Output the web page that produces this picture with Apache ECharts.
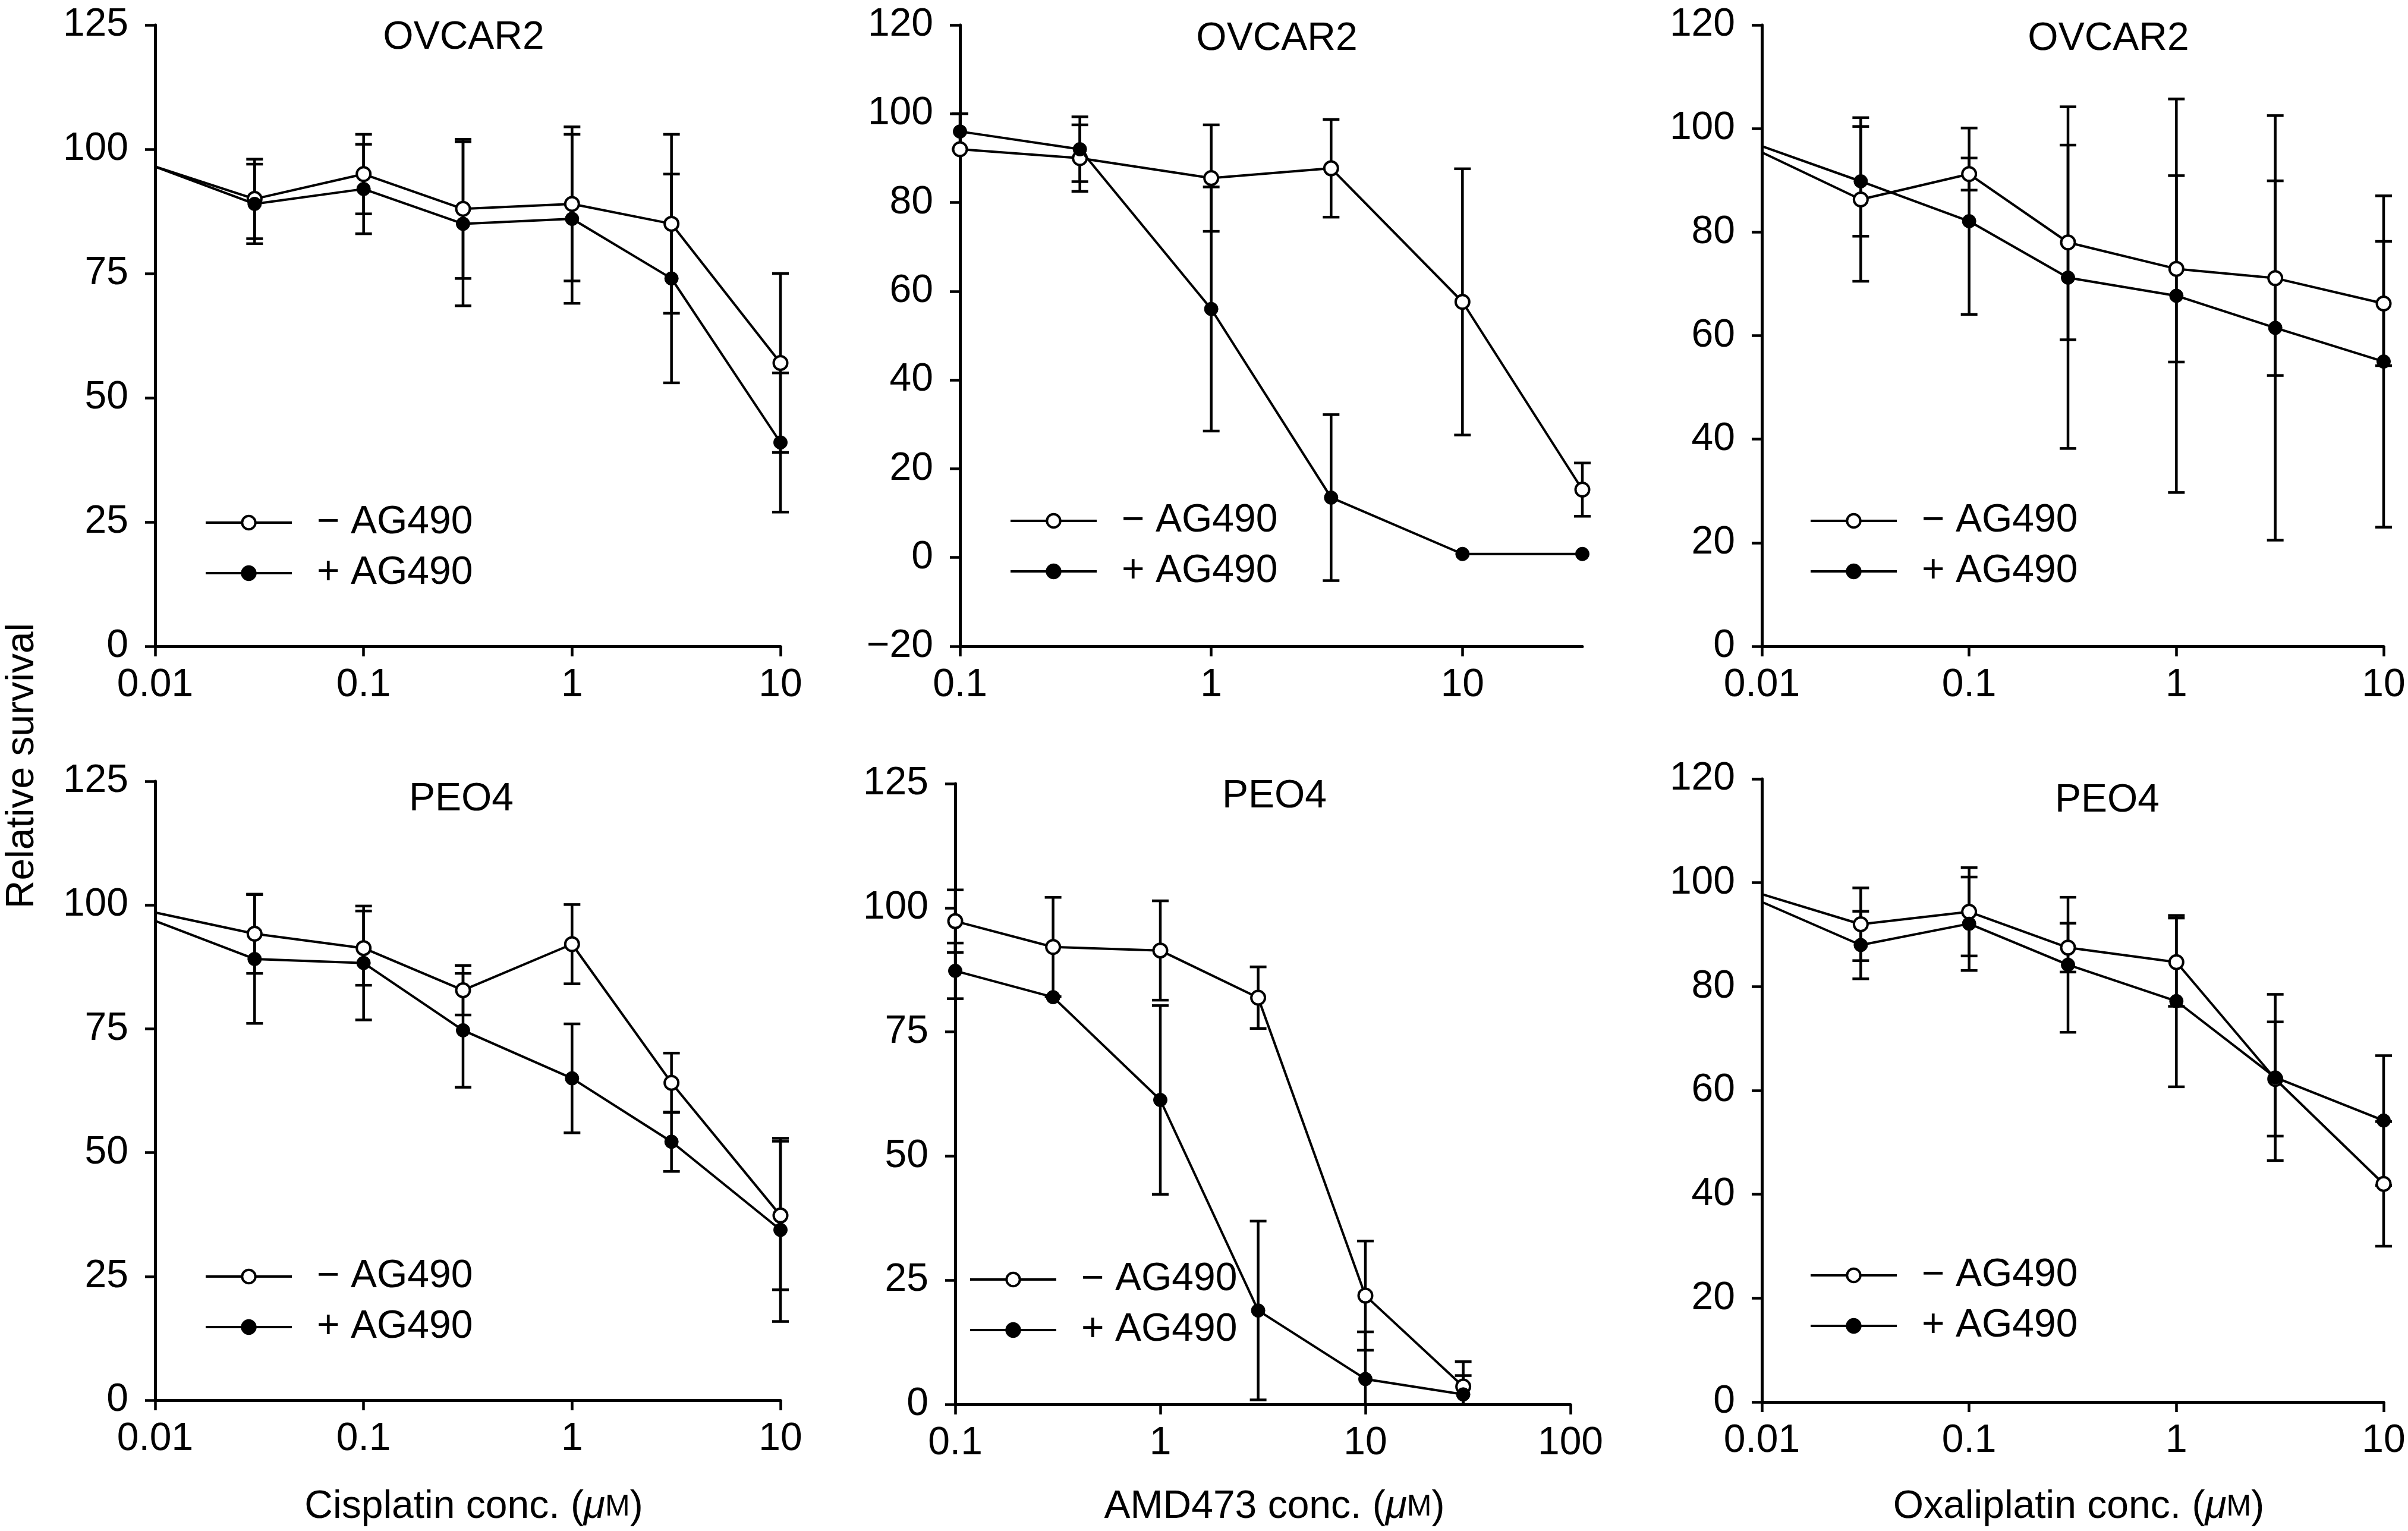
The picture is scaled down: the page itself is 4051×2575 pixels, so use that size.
<!DOCTYPE html>
<html><head><meta charset="utf-8">
<script src="https://cdn.jsdelivr.net/npm/echarts@6/dist/echarts.min.js"></script>
<style>html,body{margin:0;padding:0;background:#fff}#c{width:4051px;height:2575px}</style>
</head><body><div id="c"></div>
<script>
// ---------------- DATA ----------------
const seriesNames = ['\u2212 AG490', '+ AG490'];
const panelTitles = ['OVCAR2', 'OVCAR2', 'OVCAR2', 'PEO4', 'PEO4', 'PEO4'];
const drugNames = ['Cisplatin conc. (', 'AMD473 conc. (', 'Oxaliplatin conc. ('];

// concentrations (µM); 0.01 = untreated baseline drawn without marker
const cisX = [0.01, 0.03, 0.1, 0.3, 1, 3, 10];
const amdX = [0.1, 0.3, 1, 3, 10, 30];
const oxaX = [0.01, 0.03, 0.1, 0.3, 1, 3, 10];

// x tick labels
const ticksCis = [0.01, 0.1, 1, 10];
const ticksAmdTop = [0.1, 1, 10];
const ticksAmdBottom = [0.1, 1, 10, 100];
const ticksOxa = [0.01, 0.1, 1, 10];

// OVCAR2 - cisplatin
const ovCisMinus = [96.5, 90, 95, 88, 89, 85, 57];
const ovCisMinusErr = [0, 8, 8, 14, 15.5, 18, 18];
const ovCisPlus = [96.5, 89, 92, 85, 86, 74, 41];
const ovCisPlusErr = [0, 8, 9, 16.5, 17, 21, 14];
// OVCAR2 - AMD473
const ovAmdMinus = [92, 90, 85.5, 87.7, 57.6, 15.3];
const ovAmdMinusErr = [0, 7.5, 12, 11, 30, 6];
const ovAmdPlus = [96, 92, 56, 13.5, 0.8, 0.8];
const ovAmdPlusErr = [4, 7.3, 27.5, 18.7, 0, 0];
// OVCAR2 - oxaliplatin
const ovOxaMinus = [95.4, 86.3, 91.2, 78, 72.9, 71.1, 66.2];
const ovOxaMinusErr = [0, 15.8, 3.1, 18.8, 18, 18.8, 12];
const ovOxaPlus = [96.6, 89.8, 82.1, 71.2, 67.7, 61.5, 55];
const ovOxaPlusErr = [0, 10.6, 18, 33, 38, 41, 32];
// PEO4 - cisplatin
const peCisMinus = [98.5, 94.2, 91.3, 82.8, 92.1, 64.1, 37.3];
const peCisMinusErr = [0, 8, 7.5, 5, 8, 6, 15];
const peCisPlus = [96.8, 89.1, 88.3, 74.7, 65, 52.2, 34.4];
const peCisPlusErr = [0, 13, 11.5, 11.5, 11, 6, 18.5];
// PEO4 - AMD473
const peAmdMinus = [97.3, 92.1, 91.4, 81.9, 21.9, 3.6];
const peAmdMinusErr = [6.3, 10, 10, 6.2, 11, 5];
const peAmdPlus = [87.3, 82, 61.3, 18.9, 5.1, 2.0];
const peAmdPlusErr = [5.6, 0, 19, 18, 9.5, 3.8];
// PEO4 - oxaliplatin
const peOxaMinus = [97.8, 92, 94.4, 87.5, 84.7, 62.2, 42];
const peOxaMinusErr = [0, 7, 8.5, 4.7, 8.5, 11, 12];
const peOxaPlus = [96.3, 88, 92.1, 84.2, 77.2, 62.5, 54.2];
const peOxaPlusErr = [0, 6.5, 9, 13, 16.5, 16, 12.5];

// ---------------- LAYOUT ----------------
const FONT = '"Liberation Sans", Arial, Helvetica, sans-serif';
const FS = 66;
const panels = [
  {grid:{left:261, top:42, width:1052, height:1045}, x:cisX, xmin:0.01, xmax:10, xt:ticksCis, ymin:0, ymax:125, yint:25,
   minus:ovCisMinus, minusErr:ovCisMinusErr, plus:ovCisPlus, plusErr:ovCisPlusErr, title:[780,64], legend:[339,841]},
  {grid:{left:1615, top:42, width:1047, height:1045}, x:amdX, xmin:0.1, xmax:30, xt:ticksAmdTop, ymin:-20, ymax:120, yint:20,
   minus:ovAmdMinus, minusErr:ovAmdMinusErr, plus:ovAmdPlus, plusErr:ovAmdPlusErr, title:[2148,66], legend:[1693,838]},
  {grid:{left:2964, top:42, width:1046, height:1045}, x:oxaX, xmin:0.01, xmax:10, xt:ticksOxa, ymin:0, ymax:120, yint:20,
   minus:ovOxaMinus, minusErr:ovOxaMinusErr, plus:ovOxaPlus, plusErr:ovOxaPlusErr, title:[3547,66], legend:[3039,838]},
  {grid:{left:261, top:1314, width:1052, height:1041}, x:cisX, xmin:0.01, xmax:10, xt:ticksCis, ymin:0, ymax:125, yint:25,
   minus:peCisMinus, minusErr:peCisMinusErr, plus:peCisPlus, plusErr:peCisPlusErr, title:[776,1345], legend:[339,2109]},
  {grid:{left:1607, top:1318, width:1035, height:1044}, x:amdX, xmin:0.1, xmax:100, xt:ticksAmdBottom, ymin:0, ymax:125, yint:25,
   minus:peAmdMinus, minusErr:peAmdMinusErr, plus:peAmdPlus, plusErr:peAmdPlusErr, title:[2144,1340], legend:[1625,2114]},
  {grid:{left:2964, top:1310, width:1046, height:1048}, x:oxaX, xmin:0.01, xmax:10, xt:ticksOxa, ymin:0, ymax:120, yint:20,
   minus:peOxaMinus, minusErr:peOxaMinusErr, plus:peOxaPlus, plusErr:peOxaPlusErr, title:[3545,1347], legend:[3039,2107]}
];
const xNamePos = [[797,2535],[2144,2535],[3497,2535]];

const axisLine = {show:true, onZero:false, lineStyle:{color:'#000', width:5}};
const axisTick = {show:true, inside:false, length:17, lineStyle:{color:'#000', width:4.5}};

const grids = [], xAxes = [], yAxes = [], series = [], legends = [], graphics = [];

function errSeries(i, xs, ys, es) {
  const data = [];
  xs.forEach((v, k) => { if (es[k] > 0) data.push([v, ys[k] - es[k], ys[k] + es[k]]); });
  return {
    type:'custom', xAxisIndex:i, yAxisIndex:i, clip:false, z:2, silent:true, data,
    renderItem: (params, api) => {
      const cs = params.coordSys;
      const bottom = cs.y + cs.height;
      const lo = api.coord([api.value(0), api.value(1)]);
      const hi = api.coord([api.value(0), api.value(2)]);
      const loInside = lo[1] <= bottom + 0.5;
      const yLo = Math.min(lo[1], bottom);
      const w = 14;
      const style = {stroke:'#000', lineWidth:4.5, fill:null};
      const children = [
        {type:'line', shape:{x1:lo[0], y1:yLo, x2:hi[0], y2:hi[1]}, style},
        {type:'line', shape:{x1:hi[0]-w, y1:hi[1], x2:hi[0]+w, y2:hi[1]}, style}
      ];
      if (loInside) children.push({type:'line', shape:{x1:lo[0]-w, y1:lo[1], x2:lo[0]+w, y2:lo[1]}, style});
      return {type:'group', children};
    }
  };
}

function lineSeries(i, name, xs, ys, open) {
  return {
    type:'line', name, xAxisIndex:i, yAxisIndex:i, z: open ? 4 : 5,
    symbol:'circle', symbolSize:23, showAllSymbol:true, clip:false,
    data: xs.map((v, k) => (v === 0.01 ? {value:[v, ys[k]], symbol:'none'} : [v, ys[k]])),
    lineStyle:{color:'#000', width:4},
    itemStyle: open ? {color:'#fff', borderColor:'#000', borderWidth:4}
                    : {color:'#000', borderColor:'#000', borderWidth:1},
    emphasis:{disabled:true}
  };
}

panels.forEach((p, i) => {
  grids.push(Object.assign({containLabel:false, outerBoundsMode:'none'}, p.grid));
  xAxes.push({
    type:'log', logBase:10, gridIndex:i, min:p.xmin, max:p.xmax,
    axisLine, axisTick:Object.assign({customValues:p.xt}, axisTick),
    axisLabel:{customValues:p.xt, color:'#000', fontSize:FS, fontFamily:FONT, margin:33},
    splitLine:{show:false}, minorTick:{show:false}
  });
  yAxes.push({
    type:'value', gridIndex:i, min:p.ymin, max:p.ymax, interval:p.yint,
    axisLine, axisTick,
    axisLabel:{color:'#000', fontSize:FS, fontFamily:FONT, margin:45,
      formatter: v => (v < 0 ? '\u2212' + Math.abs(v) : String(v))},
    splitLine:{show:false}
  });
  series.push(errSeries(i, p.x, p.minus, p.minusErr));
  series.push(errSeries(i, p.x, p.plus, p.plusErr));
  series.push(lineSeries(i, seriesNames[0], p.x, p.minus, true));
  series.push(lineSeries(i, seriesNames[1], p.x, p.plus, false));
  legends.push({
    data:seriesNames, orient:'vertical', left:p.legend[0], top:p.legend[1],
    itemWidth:145, itemHeight:28, itemGap:19, selectedMode:false,
    lineStyle:{width:4, color:'#000'},
    itemStyle:{borderWidth:4},
    textStyle:{color:'#000', fontSize:FS, fontFamily:FONT, padding:[0,0,0,37]}
  });
  graphics.push({type:'text', x:p.title[0], y:p.title[1], silent:true,
    style:{text:panelTitles[i], font:`${FS}px ${FONT}`, fill:'#000', align:'center', verticalAlign:'middle'}});
});

drugNames.forEach((n, k) => {
  graphics.push({type:'text', x:xNamePos[k][0], y:xNamePos[k][1], silent:true,
    style:{text:`{n|${n}}{i|\u03bc}{m|M}{n|)}`, align:'center', verticalAlign:'middle', fill:'#000',
      rich:{
        n:{fontSize:FS, fontFamily:FONT, fill:'#000'},
        i:{fontSize:FS, fontFamily:FONT, fontStyle:'italic', fill:'#000'},
        m:{fontSize:50, fontFamily:FONT, fill:'#000'}
      }}});
});
graphics.push({type:'text', x:38, y:1288, rotation:Math.PI/2, silent:true,
  style:{text:'Relative survival', font:`${FS}px ${FONT}`, fill:'#000', align:'center', verticalAlign:'middle'}});

const chart = echarts.init(document.getElementById('c'), null, {renderer:'canvas'});
chart.setOption({
  backgroundColor:'#fff', animation:false,
  grid:grids, xAxis:xAxes, yAxis:yAxes, series, legend:legends, graphic:graphics
});
</script></body></html>
